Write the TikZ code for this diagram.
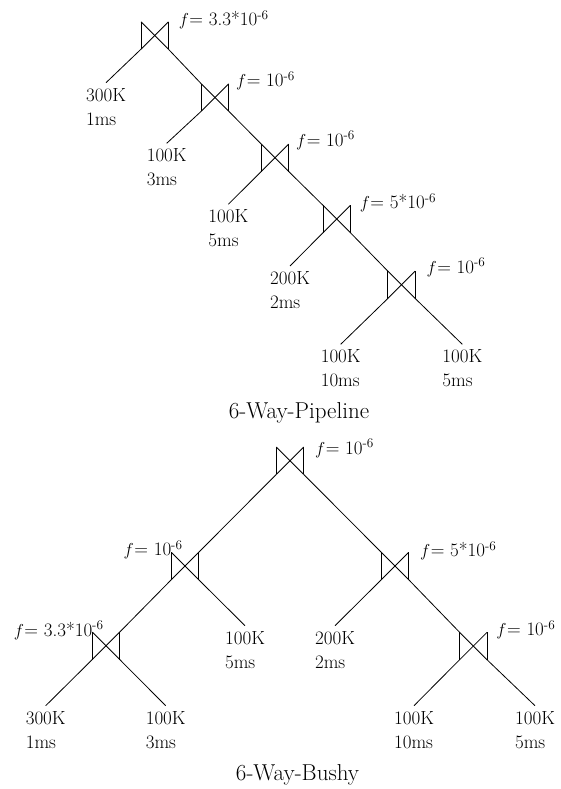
\documentclass[tikz,border=0pt]{standalone}
\usepackage{fontspec}
\usepackage{tikz}
\usetikzlibrary{calc}
\newcommand{\selv}[1]{$f$\kern0.5pt= #1\textsuperscript{-6}}

\begin{document}
\begin{tikzpicture}[
    x=1pt, y=-1pt, line width=0.8pt,
    font=\fontsize{19}{24}\selectfont,
    joinop/.style={minimum width=26.6pt, minimum height=26.6pt, inner sep=0pt,
      append after command={
        (\tikzlastnode.north west) edge (\tikzlastnode.south west)
        (\tikzlastnode.north east) edge (\tikzlastnode.south east)
        (\tikzlastnode.north west) edge (\tikzlastnode.south east)
        (\tikzlastnode.north east) edge (\tikzlastnode.south west)}},
    leaf/.style={anchor=north, align=left, inner xsep=0pt, inner ysep=5pt},
    fright/.style={anchor=base west, inner sep=0pt},
    fleft/.style={anchor=base east, inner sep=0pt},
    title/.style={anchor=base, font=\fontsize{23}{27}\selectfont}
]
\useasboundingbox (0,0) rectangle (561,789);

% pipeline plan
\node[joinop] (p1) at (154.7,35.5) {};
\node[joinop] (p2) at (215,97.5) {};
\node[joinop] (p3) at (275,157.8) {};
\node[joinop] (p4) at (336.7,219) {};
\node[joinop] (p5) at (401.5,284.8) {};
\node[leaf] (pa) at (106,82.7) {300K\\1ms};
\node[leaf] (pb) at (166.7,143.3) {100K\\3ms};
\node[leaf] (pc) at (228.3,204.3) {100K\\5ms};
\node[leaf] (pd) at (290,266) {200K\\2ms};
\node[leaf] (pe) at (340.7,344.3) {100K\\10ms};
\node[leaf] (pf) at (462.3,344.3) {100K\\5ms};
\draw (p1.south east) -- (p2.north west);
\draw (p2.south east) -- (p3.north west);
\draw (p3.south east) -- (p4.north west);
\draw (p4.south east) -- (p5.north west);
\draw (p1.south west) -- (pa.north);
\draw (p2.south west) -- (pb.north);
\draw (p3.south west) -- (pc.north);
\draw (p4.south west) -- (pd.north);
\draw (p5.south west) -- (pe.north);
\draw (p5.south east) -- (pf.north);
\node[fright] (fp1) at ($(p1.north east)+(10,4)$) {\selv{3.3*10}};
\node[fright] (fp2) at ($(p2.north east)+(7,3)$) {\selv{10}};
\node[fright] (fp3) at ($(p3.north east)+(7,2)$) {\selv{10}};
\node[fright] (fp4) at ($(p4.north east)+(9,3)$) {\selv{5*10}};
\node[fright] (fp5) at ($(p5.north east)+(11,2)$) {\selv{10}};
\node[title] (tp) at (299,418.3) {6-Way-Pipeline};

% bushy plan
\node[joinop] (b0) at (290,460.7) {};
\node[joinop] (b1) at (185,566) {};
\node[joinop] (b2) at (395,566) {};
\node[joinop] (b3) at (106,645.8) {};
\node[joinop] (b4) at (473.3,646) {};
\node[leaf] (ba) at (45.7,705.7) {300K\\1ms};
\node[leaf] (bb) at (165.7,705.7) {100K\\3ms};
\node[leaf] (bc) at (245,625.7) {100K\\5ms};
\node[leaf] (bd) at (335,625.7) {200K\\2ms};
\node[leaf] (be) at (414,705.7) {100K\\10ms};
\node[leaf] (bf) at (535,705.7) {100K\\5ms};
\draw (b0.south west) -- (b1.north east);
\draw (b0.south east) -- (b2.north west);
\draw (b1.south west) -- (b3.north east);
\draw (b1.south east) -- (bc.north);
\draw (b3.south west) -- (ba.north);
\draw (b3.south east) -- (bb.north);
\draw (b2.south west) -- (bd.north);
\draw (b2.south east) -- (b4.north west);
\draw (b4.south west) -- (be.north);
\draw (b4.south east) -- (bf.north);
\node[fright] (fb0) at ($(b0.north east)+(11,7)$) {\selv{10}};
\node[fleft] (fb1) at ($(b1.north)+(-2,3.5)$) {\selv{10}};
\node[fright] (fb2) at ($(b2.north east)+(11,4.5)$) {\selv{5*10}};
\node[fleft] (fb3) at ($(b3.north)+(-2,4)$) {\selv{3.3*10}};
\node[fright] (fb4) at ($(b4.north east)+(9,3)$) {\selv{10}};
\node[title] (tb) at (297.5,780) {6-Way-Bushy};
\end{tikzpicture}
\end{document}
